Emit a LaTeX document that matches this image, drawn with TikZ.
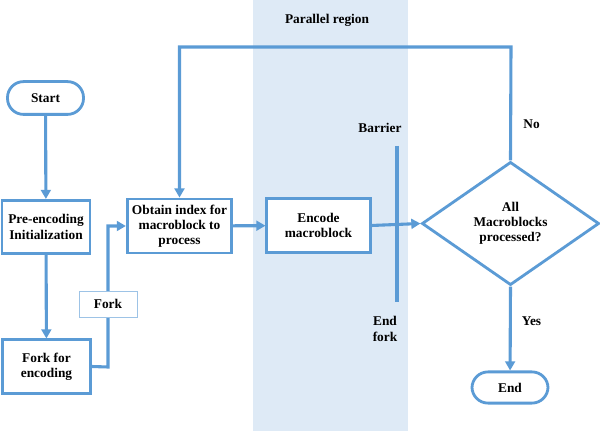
\documentclass[tikz,border=0pt]{standalone}
\usepackage{fontspec}
\setmainfont{Liberation Serif}
\newfontfamily\flowfont{Liberation Serif}
\usetikzlibrary{shapes.geometric, arrows.meta, positioning}
\definecolor{flowblue}{RGB}{91,155,213}
\definecolor{forkblue}{RGB}{157,195,230}
\definecolor{regionblue}{RGB}{222,234,246}
\tikzstyle{recNode} = [rectangle, draw=flowblue, line width=2pt, fill=white, text centered, align=center, font=\flowfont\bfseries\fontsize{9.5}{10.8}\selectfont]
\tikzstyle{termNode} = [recNode, rounded corners=0.4cm, minimum width=1.9cm, minimum height=0.82cm]
\tikzstyle{procNode} = [recNode, minimum height=1.33cm]
\tikzstyle{decNode} = [recNode, diamond, minimum width=4.43cm, minimum height=3.08cm, inner sep=0pt]
\tikzstyle{tagNode} = [recNode, draw=forkblue, line width=0.7pt, minimum width=1.45cm, minimum height=0.65cm]
\tikzstyle{lblNode} = [align=center, inner sep=0pt, font=\flowfont\bfseries\fontsize{9.5}{10.8}\selectfont]
\tikzstyle{flowLine} = [line width=2.2pt, draw=flowblue]
\tikzstyle{arrow} = [flowLine, -{Triangle[length=6.5pt,width=7pt]}]

\begin{document}
\begin{tikzpicture}[x=0.025cm, y=-0.025cm]
    \useasboundingbox (0,0) rectangle (600,431);
    \fill [regionblue] (253,0) rectangle (408,431);
    \node (region) [lblNode] at (327,20) {Parallel region};

    \node (start) [termNode] at (45.5,98) {Start};
    \node (pre) [procNode, minimum width=2.2cm] at (46,227) {Pre-encoding\\Initialization};
    \node (forkenc) [procNode, minimum width=2.18cm] at (46.5,366.5) {Fork for\\encoding};
    \node (obtain) [procNode, minimum width=2.58cm, minimum height=1.35cm] at (179.5,226) {Obtain index for\\macroblock to\\process};
    \node (encode) [procNode, minimum width=2.58cm] at (318.5,225.5) {Encode\\macroblock};
    \node (check) [decNode] at (510.5,223.5) {All\\Macroblocks\\processed?};
    \node (end) [termNode, minimum height=0.78cm] at (510,387.5) {End};

    \coordinate (turn) at (108,367);
    \coordinate (loopR) at (511,47);
    \coordinate (barTop) at (397,146);
    \coordinate (barBot) at (397,302);

    \draw [arrow] (start) -- (pre);
    \draw [arrow] (pre) -- (forkenc);
    \draw [arrow] (forkenc.east) -- (turn) |- node[tagNode, pos=0.223] {Fork} (obtain.west);
    \draw [arrow] (obtain) -- (encode);
    \draw [arrow] (encode.east) -- (check.west);
    \draw [flowLine] (barTop) -- (barBot);
    \node (barrier) [lblNode] at (380,128) {Barrier};
    \node (endfork) [lblNode] at (385,329) {End\\fork};
    \draw [arrow] (check.north) -- node[lblNode, pos=0.32, right=0.28cm] {No} (loopR) -| (obtain.north);
    \draw [arrow] (check.south) -- node[lblNode, pos=0.41, right=0.25cm] {Yes} (end);

\end{tikzpicture}
\end{document}
